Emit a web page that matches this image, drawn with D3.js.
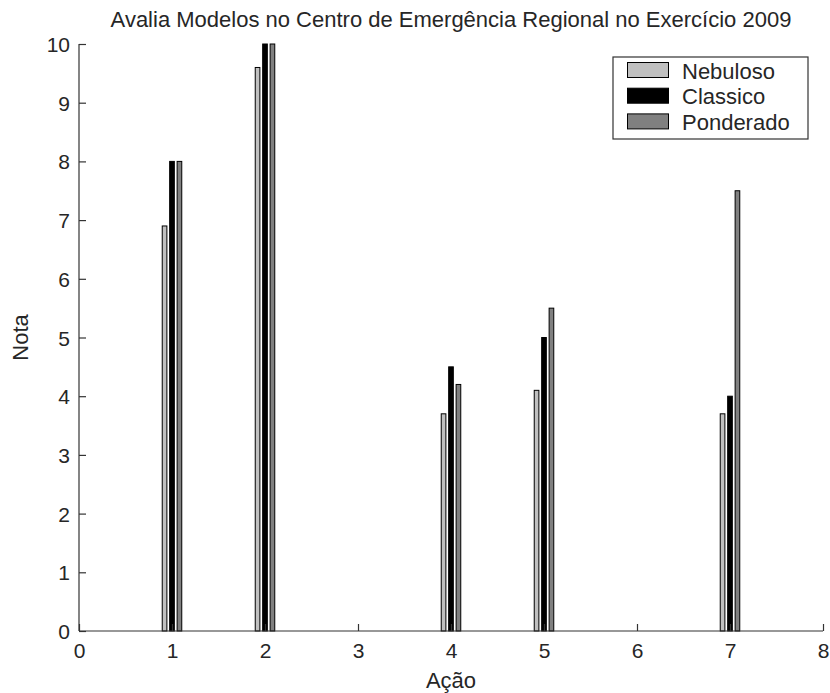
<!DOCTYPE html>
<html>
<head>
<meta charset="utf-8">
<script src="https://cdn.jsdelivr.net/npm/d3@7"></script>
<style>
  body { margin: 0; background: #fff; }
  svg text { font-family: "Liberation Sans", Arial, sans-serif; fill: #262626; }
</style>
</head>
<body>
<svg id="chart" width="830" height="693"></svg>
<script>
// Scores per action (Ação) for each evaluation model
const actions = [1, 2, 4, 5, 7];
const nebuloso = [6.9, 9.6, 3.7, 4.1, 3.7];
const classico = [8.0, 10.0, 4.5, 5.0, 4.0];
const ponderado = [8.0, 10.0, 4.2, 5.5, 7.5];
const seriesNames = ["Nebuloso", "Classico", "Ponderado"];
const seriesColors = ["#c0c0c0", "#000000", "#808080"];
const xTicks = [0, 1, 2, 3, 4, 5, 6, 7, 8];
const yTicks = [0, 1, 2, 3, 4, 5, 6, 7, 8, 9, 10];

(function () {
const svg = d3.select("#chart");
const mLeft = 79, mRight = 823, mTop = 44, mBottom = 631;

const x = d3.scaleLinear().domain([0, 8]).range([mLeft, mRight]);
const y = d3.scaleLinear().domain([0, 10]).range([mBottom, mTop]);

const seriesValues = [nebuloso, classico, ponderado];
const offsets = [-0.08, 0, 0.08];
const barW = 0.05;

// bars
seriesValues.forEach((vals, si) => {
  svg.append("g").selectAll("rect")
    .data(actions.map((a, i) => ({ a, v: vals[i] })))
    .join("rect")
    .attr("x", d => x(d.a + offsets[si] - barW / 2))
    .attr("width", d => x(d.a + offsets[si] + barW / 2) - x(d.a + offsets[si] - barW / 2))
    .attr("y", d => y(d.v))
    .attr("height", d => y(0) - y(d.v))
    .attr("fill", seriesColors[si])
    .attr("stroke", "#000")
    .attr("stroke-width", 1);
});

// axes with inward ticks
const xAxis = d3.axisBottom(x).tickValues(xTicks).tickSize(-7).tickFormat(d3.format("d"));
const yAxis = d3.axisLeft(y).tickValues(yTicks).tickSize(-7).tickFormat(d3.format("d"));

const gx = svg.append("g").attr("transform", `translate(0,${mBottom})`).call(xAxis);
const gy = svg.append("g").attr("transform", `translate(${mLeft},0)`).call(yAxis);
[gx, gy].forEach(g => {
  g.select(".domain").attr("stroke", "#333").attr("stroke-width", 1.2);
  g.selectAll(".tick line").attr("stroke", "#333").attr("stroke-width", 1.2);
  g.selectAll(".tick text").attr("font-size", 21).attr("fill", "#262626")
    .style("font-family", "'Liberation Sans', Arial, sans-serif");
});
gx.select(".domain").attr("d", `M${mLeft},0H${mRight}`);
gy.select(".domain").attr("d", `M0,${mBottom}V${mTop}`);
gx.selectAll(".tick text").attr("dy", null).attr("y", 27);
gy.selectAll(".tick text").attr("x", -9).attr("dy", "0.36em");

// title and labels
svg.append("text").attr("x", (mLeft + mRight) / 2).attr("y", 27)
  .attr("text-anchor", "middle").attr("font-size", 22)
  .text("Avalia Modelos no Centro de Emergência Regional no Exercício 2009");
svg.append("text").attr("x", (mLeft + mRight) / 2).attr("y", 688)
  .attr("text-anchor", "middle").attr("font-size", 22).text("Ação");
svg.append("text").attr("transform", `translate(28,${(mTop + mBottom) / 2}) rotate(-90)`)
  .attr("text-anchor", "middle").attr("font-size", 22).text("Nota");

// legend
const lg = svg.append("g").attr("transform", "translate(613,57)");
lg.append("rect").attr("width", 195).attr("height", 82)
  .attr("fill", "#fff").attr("stroke", "#333").attr("stroke-width", 1.2);
seriesNames.forEach((n, i) => {
  const ry = 13 + i * 25.7;
  lg.append("rect").attr("x", 14.5).attr("y", ry - 7.5).attr("width", 41).attr("height", 15)
    .attr("fill", seriesColors[i]).attr("stroke", "#000");
  lg.append("text").attr("x", 69).attr("y", ry + 8.5).attr("font-size", 22).text(n);
});
})();
</script>
</body>
</html>
